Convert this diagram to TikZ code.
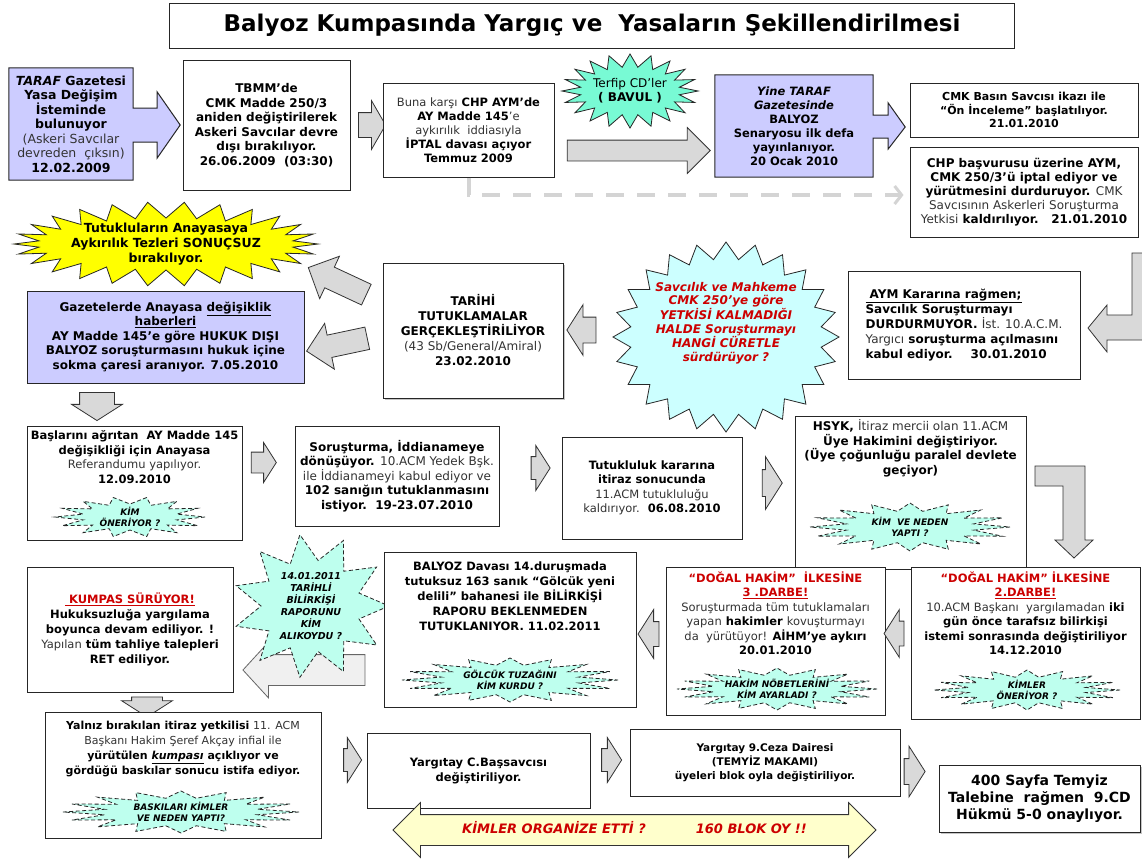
\documentclass[tikz,border=0pt]{standalone}
\usepackage{fontspec}
\setmainfont{DejaVu Sans}
\usetikzlibrary{positioning, calc, shapes.arrows, shadows, arrows.meta, backgrounds}

\definecolor{lavender}{RGB}{204,204,255}
\definecolor{arrgray}{RGB}{217,217,217}
\definecolor{mint}{RGB}{120,250,212}
\definecolor{palemint}{RGB}{190,255,238}
\definecolor{skyc}{RGB}{204,255,255}
\definecolor{sunny}{RGB}{255,255,0}
\definecolor{cream}{RGB}{255,255,204}
\definecolor{alarm}{RGB}{204,0,0}
\definecolor{dashgray}{RGB}{212,212,212}

\newcommand{\fs}[2]{\fontsize{#1}{#2}\selectfont}
\newcommand{\nt}[1]{{\mdseries\color{black!80}#1}}
% burst: style, centre, outer rx, outer ry, points, inner rx, inner ry
\newcommand{\burst}[7][]{%
    \draw[#1, shift={(#2)}] (#3,0)
        \foreach \k in {1,...,#5}{
            -- ({#6*cos((\k-0.5)*360/#5)}, {#7*sin((\k-0.5)*360/#5)})
            -- ({#3*cos(\k*360/#5)}, {#4*sin(\k*360/#5)})}
        -- cycle;}

\tikzset{%
    box/.style={draw=black!85, line width=1pt, fill=white, align=center, inner sep=2pt, font=\bfseries\fs{12}{14.5}},
    lav/.style={box, fill=lavender},
    txt/.style={align=center, inner sep=0pt, font=\bfseries\fs{12}{14.5}},
    callout/.style={draw=black!85, line width=1pt, fill=lavender},
    blk/.style 2 args={single arrow, draw=black!80, fill=arrgray, line width=0.8pt, inner xsep=0pt, inner ysep=#1, single arrow head extend=#2, single arrow tip angle=115},
    blkd/.style 2 args={single arrow, draw=black!80, fill=arrgray, line width=0.8pt, inner ysep=0pt, inner xsep=#1, single arrow head extend=#2, single arrow tip angle=115, shape border rotate=270},
    garr/.style={draw=black!80, fill=arrgray, line width=0.8pt},
    blast/.style={draw=black!85, line width=0.8pt},
    quest/.style={blast, fill=palemint, dash pattern=on 4pt off 2.5pt},
    qtxt/.style={align=center, inner sep=0pt, font=\bfseries\itshape\fs{9}{11}},
    dasharr/.style={draw=dashgray, line width=4pt, dash pattern=on 18pt off 13pt, -{Straight Barb[length=7pt, width=18pt, line width=3pt]}, shorten >=6pt},
}

\begin{document}
\begin{tikzpicture}[x=1pt, y=-1pt]
    \useasboundingbox (0,0) rectangle (1142,860);
    \begin{scope}[on background layer]
        \fill[white] (0,0) rectangle (1142,860);
    \end{scope}
    \node[box, minimum width=845pt, minimum height=45pt, font=\bfseries\fs{23}{26}] (title) at (592,25.5) {Balyoz Kumpasında Yargıç ve\ \ Yasaların Şekillendirilmesi};

    % first row
    \node[txt, minimum width=124pt, minimum height=112pt, font=\bfseries\fs{12.5}{14.5}] (taraf) at (71,124) {{\itshape TARAF} Gazetesi\\Yasa Değişim\\İsteminde\\bulunuyor\\\nt{(Askeri Savcılar}\\\nt{devreden\ \ çıksın)}\\12.02.2009};
    \node[box, minimum width=167pt, minimum height=130pt] (tbmm) at (266.5,125) {TBMM'de\\CMK Madde 250/3\\aniden değiştirilerek\\Askeri Savcılar devre\\dışı bırakılıyor.\\26.06.2009\ \ (03:30)};
    \node[blk={12pt}{12pt}, minimum height=27pt, single arrow tip angle=120] (a1) at (368.5,125) {};
    \node[box, minimum width=171pt, minimum height=94pt, font=\bfseries\fs{11.5}{14}] (chp) at (468.5,130) {\nt{Buna karşı} CHP AYM'de\\AY Madde 145\nt{'e}\\\nt{aykırılık\ \ iddiasıyla}\\İPTAL davası açıyor\\Temmuz 2009};
    \coordinate (tc) at (630,91);
    \burst[blast, fill=mint]{tc}{68}{37}{20}{50}{24}
    \node[txt, font=\bfseries\fs{12}{14}] (terfip) at (tc) {{\mdseries Terfip CD'ler}\\( BAVUL )};
    \node[blk={10pt}{12.5pt}, minimum height=143pt, single arrow tip angle=90] (a2) at (633.5,150.5) {};
    \node[txt, minimum width=158pt, minimum height=102pt, font=\bfseries\fs{11.5}{14}] (yine) at (794,126) {{\itshape Yine TARAF}\\{\itshape Gazetesinde}\\BALYOZ\\Senaryosu ilk defa\\yayınlanıyor.\\20 Ocak 2010};
    \node[box, minimum width=228pt, minimum height=54pt, font=\bfseries\fs{11}{13.5}] (cmkb) at (1024,110) {CMK Basın Savcısı ikazı ile\\“Ön İnceleme” başlatılıyor.\\21.01.2010};
    \node[box, minimum width=228pt, minimum height=90pt, font=\bfseries\fs{12}{14}] (chpb) at (1024,192) {CHP başvurusu üzerine AYM,\\CMK 250/3'ü iptal ediyor ve\\yürütmesini durduruyor. \nt{CMK}\\\nt{Savcısının Askerleri Soruşturma}\\\nt{Yetkisi} kaldırılıyor.\ \ \ 21.01.2010};
    \draw[dasharr] (chp.south) |- ([yshift=-3pt]chpb.west);
    \begin{scope}[on background layer]
        \draw[callout] (taraf.north west) -- (taraf.north east) -- ($(taraf.east)+(0,-16)$) -- ++(24,0) -- ++(0,-16) -- ($(taraf.east)+(47,1)$) -- ($(taraf.east)+(24,34)$) -- ++(0,-16) -- ($(taraf.east)+(0,18)$) -- (taraf.south east) -- (taraf.south west) -- cycle;
        \draw[callout] (yine.north west) -- (yine.north east) -- ($(yine.east)+(0,-11)$) -- ++(15,0) -- ++(0,-12) -- ($(yine.east)+(32,1)$) -- ($(yine.east)+(15,23)$) -- ++(0,-11) -- ($(yine.east)+(0,12)$) -- (yine.south east) -- (yine.south west) -- cycle;
    \end{scope}

    % second row
    \coordinate (yc) at (166,244);
    \burst[blast, fill=sunny]{yc}{152}{42}{26}{128}{26}
    \node[txt, font=\bfseries\fs{12.5}{15}] (sonuc) at (yc) {Tutukluların Anayasaya\\Aykırılık Tezleri SONUÇSUZ\\bırakılıyor.};
    \node[lav, minimum width=277pt, minimum height=92pt] (gazete) at (165.5,337) {Gazetelerde Anayasa \underline{değişiklik}\\\underline{haberleri}\\AY Madde 145'e göre HUKUK DIŞI\\BALYOZ soruşturmasını hukuk içine\\sokma çaresi aranıyor. 7.05.2010};
    \node[blk={11pt}{12pt}, minimum height=64pt, single arrow tip angle=90, rotate=155] (a3) at (342.5,283.5) {};
    \node[blk={11pt}{12pt}, minimum height=62pt, single arrow tip angle=90, rotate=192] (a4) at (342.5,343.5) {};
    \node[blkd={17pt}{8pt}, minimum height=28pt] (a5) at (97,401) {};
    \node[box, minimum width=180pt, minimum height=135pt, font=\bfseries\fs{12}{15}, drop shadow={shadow xshift=2pt, shadow yshift=-2pt, opacity=0.45}] (tarihi) at (473,330.5) {TARİHİ\\TUTUKLAMALAR\\GERÇEKLEŞTİRİLİYOR\\\nt{(43 Sb/General/Amiral)}\\23.02.2010};
    \coordinate (sc) at (726,337);
    \burst[blast, fill=skyc]{sc}{113}{95}{24}{96}{78}
    \node[txt, text=alarm, font=\bfseries\itshape\fs{12}{13.5}] (savci) at (726,323) {Savcılık ve Mahkeme\\CMK 250'ye göre\\YETKİSİ KALMADIĞI\\HALDE Soruşturmayı\\HANGİ CÜRETLE\\sürdürüyor ?};
    \node[blk={12.5pt}{12.5pt}, minimum height=29pt, shape border rotate=180] (a6) at (585.5,330) {};
    \node[box, minimum width=232pt, minimum height=108pt, align=left, font=\bfseries\fs{12}{15}] (aym) at (964,325) {\underline{\ AYM Kararına rağmen;}\\Savcılık Soruşturmayı\\DURDURMUYOR. \nt{İst. 10.A.C.M.}\\\nt{Yargıcı} soruşturma açılmasını\\kabul ediyor.\hspace{18pt}30.01.2010};
    \draw[garr] (1157,253) -- (1132,253) -- (1132,315) -- (1107,315) -- (1107,305) -- (1088,328) -- (1107,352) -- (1107,340) -- (1157,340) -- cycle;

    % third row
    \node[box, minimum width=215pt, minimum height=114pt] (basl) at (134.5,483) {};
    \node[txt, below=5pt of basl.north, font=\bfseries\fs{11.5}{14.5}] (basl-t) {Başlarını ağrıtan\ \ AY Madde 145\\değişikliği için Anayasa\\\nt{Referandumu yapılıyor.}\\12.09.2010};
    \coordinate (q1) at (130,517);
    \burst[quest]{q1}{75}{20}{14}{48}{13}
    \node[qtxt] (q1-t) at (q1) {KİM\\ÖNERİYOR ?};
    \node[blk={10pt}{9.5pt}, minimum height=25pt] (a7) at (260.5,462.5) {};
    \node[box, minimum width=204pt, minimum height=100pt] (sorus) at (397,476) {Soruşturma, İddianameye\\dönüşüyor. \nt{10.ACM Yedek Bşk.}\\\nt{ile İddianameyi kabul ediyor ve}\\102 sanığın tutuklanmasını\\istiyor.\ \ 19-23.07.2010};
    \node[blk={11pt}{11pt}, minimum height=19pt] (a8) at (537,468) {};
    \node[box, minimum width=180pt, minimum height=102pt, font=\bfseries\fs{11.5}{14.5}] (tutukl) at (652,488) {Tutukluluk kararına\\itiraz sonucunda\\\nt{11.ACM tutukluluğu}\\\nt{kaldırıyor.}\ \ 06.08.2010};
    \node[blk={13pt}{13pt}, minimum height=20pt] (a9) at (768,483) {};
    \node[box, minimum width=231pt, minimum height=153pt] (hsyk) at (910.5,492.5) {};
    \node[txt, below=4pt of hsyk.north] (hsyk-t) {HSYK, \nt{İtiraz mercii olan 11.ACM}\\Üye Hakimini değiştiriyor.\\(Üye çoğunluğu paralel devlete\\geçiyor)};
    \coordinate (q2) at (910,527);
    \burst[quest]{q2}{100}{24}{16}{65}{16}
    \node[qtxt] (q2-t) at (q2) {KİM\ \ VE NEDEN\\YAPTI ?};
    \draw[garr] (1035,466) -- (1085,466) -- (1085,540) -- (1093,540) -- (1074,558) -- (1055,540) -- (1063,540) -- (1063,486) -- (1035,486) -- cycle;

    % fourth row
    \node[box, minimum width=206pt, minimum height=125pt, font=\bfseries\fs{11.5}{15}] (kumpas) at (130,629.5) {\textcolor{alarm}{\underline{\ KUMPAS SÜRÜYOR!}}\\Hukuksuzluğa yargılama\\boyunca devam ediliyor. !\\\nt{Yapılan} tüm tahliye talepleri\\RET ediliyor.};
    \node[blk={15pt}{12.5pt}, minimum height=122pt, single arrow tip angle=95, shape border rotate=180, fill=black!6, draw=black!60] (a10) at (311,670) {};
    \coordinate (c14) at (311,606);
    \burst[quest]{c14}{78}{72}{11}{50}{46}
    \node[qtxt, font=\bfseries\itshape\fs{9.5}{12}] (c14-t) at (c14) {14.01.2011\\TARİHLİ\\BİLİRKİŞİ\\RAPORUNU\\KİM\\ALIKOYDU ?};
    \node[box, minimum width=252pt, minimum height=155pt] (balyoz) at (510,629.5) {};
    \node[txt, below=10pt of balyoz.north, font=\bfseries\fs{11.5}{15}] (balyoz-t) {BALYOZ Davası 14.duruşmada\\tutuksuz 163 sanık “Gölcük yeni\\delili” bahanesi ile BİLİRKİŞİ\\RAPORU BEKLENMEDEN\\TUTUKLANIYOR. 11.02.2011};
    \coordinate (q3) at (510,680);
    \burst[quest]{q3}{108}{22}{16}{70}{15}
    \node[qtxt] (q3-t) at (q3) {GÖLCÜK TUZAĞINI\\KİM KURDU ?};
    \node[blk={12pt}{12pt}, minimum height=21pt, shape border rotate=180] (a11) at (652.5,634) {};
    \node[box, minimum width=219pt, minimum height=148pt] (darbe3) at (775.5,641) {};
    \node[txt, below=5pt of darbe3.north, font=\bfseries\fs{11.5}{14.5}] (darbe3-t) {\textcolor{alarm}{“DOĞAL HAKİM”\ \ İLKESİNE}\\\textcolor{alarm}{\underline{3 .DARBE!}}\\\nt{Soruşturmada tüm tutuklamaları}\\\nt{yapan} hakimler \nt{kovuşturmayı}\\\nt{da\ \ yürütüyor!} AİHM'ye aykırı\\20.01.2010};
    \coordinate (q4) at (777,689);
    \burst[quest]{q4}{100}{21}{16}{65}{14}
    \node[qtxt] (q4-t) at (q4) {HAKİM NÖBETLERİNİ\\KİM AYARLADI ?};
    \node[blk={12pt}{11.5pt}, minimum height=20pt, shape border rotate=180] (a12) at (898,633.5) {};
    \node[box, minimum width=229pt, minimum height=152pt] (darbe2) at (1025.5,643) {};
    \node[txt, below=5pt of darbe2.north, font=\bfseries\fs{11.5}{14.5}] (darbe2-t) {\textcolor{alarm}{“DOĞAL HAKİM” İLKESİNE}\\\textcolor{alarm}{\underline{2.DARBE!}}\\\nt{10.ACM Başkanı\ \ yargılamadan} iki\\gün önce tarafsız bilirkişi\\istemi sonrasında değiştiriliyor\\14.12.2010};
    \coordinate (q5) at (1027,690);
    \burst[quest]{q5}{93}{20}{16}{60}{13}
    \node[qtxt] (q5-t) at (q5) {KİMLER\\ÖNERİYOR ?};

    % fifth row
    \node[blkd={15pt}{10pt}, minimum height=20pt] (a13) at (147,702) {};
    \node[box, minimum width=276pt, minimum height=126pt] (yalniz) at (183,775) {};
    \node[txt, below=9pt of yalniz.north, font=\bfseries\fs{11}{15}] (yalniz-t) {Yalnız bırakılan itiraz yetkilisi \nt{11. ACM}\\\nt{Başkanı Hakim Şeref Akçay infial ile}\\yürütülen \underline{\textit{kumpası}} açıklıyor ve\\gördüğü baskılar sonucu istifa ediyor.};
    \coordinate (q6) at (181,812);
    \burst[quest]{q6}{118}{21}{16}{78}{14}
    \node[qtxt] (q6-t) at (q6) {BASKILARI KİMLER\\VE NEDEN YAPTI?};
    \node[blk={11pt}{11pt}, minimum height=18pt] (a14) at (349,760) {};
    \node[box, minimum width=223pt, minimum height=75pt, font=\bfseries\fs{11.5}{15}] (yargc) at (478.5,770.5) {Yargıtay C.Başsavcısı\\değiştiriliyor.};
    \node[blk={11pt}{11pt}, minimum height=20pt] (a15) at (608,760) {};
    \node[box, minimum width=270pt, minimum height=67pt, font=\bfseries\fs{10.5}{14}] (yarg9) at (765,762.5) {Yargıtay 9.Ceza Dairesi\\(TEMYİZ MAKAMI)\\üyeleri blok oyla değiştiriliyor.};
    \node[blk={12.5pt}{12.5pt}, minimum height=21pt] (a16) at (910.5,771.5) {};
    \node[box, minimum width=201pt, minimum height=67pt, font=\bfseries\fs{14}{17}, drop shadow={shadow xshift=2pt, shadow yshift=-2pt, opacity=0.45}] (s400) at (1039.5,798.5) {400 Sayfa Temyiz\\Talebine\ \ rağmen\ \ 9.CD\\Hükmü 5-0 onaylıyor.};
    \node[double arrow, draw=black!80, fill=cream, line width=0.8pt, minimum height=483pt, inner xsep=0pt, inner ysep=9pt, text height=9.5pt, text depth=2.5pt, double arrow head extend=12pt, double arrow tip angle=90, text=alarm, font=\bfseries\itshape\fs{13}{15}] (orgz) at (634.5,830) {KİMLER ORGANİZE ETTİ ?\hspace{50pt}160 BLOK OY !!};
\end{tikzpicture}
\end{document}
